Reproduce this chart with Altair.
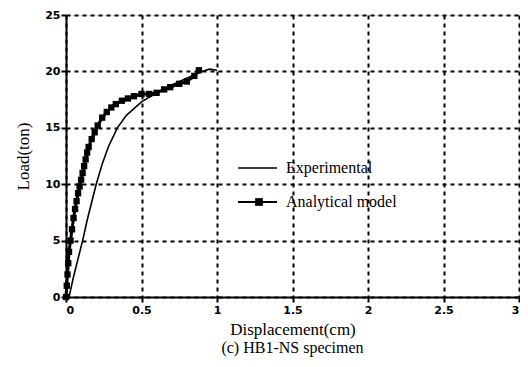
import altair as alt
import pandas as pd

exp_x = [0.02, 0.05, 0.08, 0.11, 0.14, 0.17, 0.20, 0.24, 0.28, 0.34, 0.40, 0.50, 0.60, 0.70, 0.80, 0.90, 0.95, 1.00]
exp_y = [0.0, 1.8, 3.4, 5.0, 6.8, 8.4, 10.0, 11.8, 13.3, 15.0, 16.1, 17.3, 18.1, 18.8, 19.4, 20.0, 20.2, 20.1]

ana_x = [0.0, 0.005, 0.01, 0.015, 0.02, 0.03, 0.04, 0.05, 0.06, 0.07, 0.08, 0.09, 0.10, 0.11, 0.12,
         0.13, 0.14, 0.15, 0.17, 0.19, 0.21, 0.24, 0.27, 0.30, 0.33, 0.37, 0.41, 0.45, 0.50, 0.55,
         0.60, 0.65, 0.69, 0.75, 0.80, 0.85, 0.88]
ana_y = [0.0, 1.0, 2.0, 3.0, 4.0, 5.0, 6.0, 7.0, 7.8, 8.5, 9.2, 9.8, 10.4, 11.0, 11.6,
         12.2, 12.8, 13.3, 14.0, 14.6, 15.2, 15.9, 16.4, 16.8, 17.1, 17.4, 17.6, 17.8, 18.0, 18.0,
         18.1, 18.4, 18.6, 18.9, 19.1, 19.6, 20.1]

legend_labels = ["Experimental", "Analytical model"]

x_ticks = [0, 0.5, 1, 1.5, 2, 2.5, 3]
y_ticks = [0, 5, 10, 15, 20, 25]

exp_df = pd.DataFrame({"x": exp_x, "y": exp_y, "o": list(range(len(exp_x)))})
ana_df = pd.DataFrame({"x": ana_x, "y": ana_y, "o": list(range(len(ana_x)))})

W, H = 453, 282

xs = alt.Scale(domain=[0, 3], nice=False)
ys = alt.Scale(domain=[0, 25], nice=False)

SERIF = "Liberation Serif"

common = dict(grid=True, gridDash=[4, 4], gridWidth=2, gridColor="black", gridOpacity=1,
              domainColor="black", domainWidth=2, tickColor="black", tickSize=5, tickWidth=2,
              labelFont="DejaVu Sans", labelFontWeight="bold", labelFontSize=11, labelColor="black",
              titleFont=SERIF, titleFontSize=17, titleFontWeight="normal", titleColor="black")

xax = alt.Axis(values=x_ticks, title="Displacement(cm)", labelPadding=2, titlePadding=6,
               labelExpr="datum.value", **common)
yax = alt.Axis(values=y_ticks, title="Load(ton)", labelPadding=1, titlePadding=12, **common)

exp_line = alt.Chart(exp_df).mark_line(color="black", strokeWidth=1.6).encode(
    x=alt.X("x:Q", scale=xs, axis=xax),
    y=alt.Y("y:Q", scale=ys, axis=yax),
    order="o:Q",
)
ana_line = alt.Chart(ana_df).mark_line(color="black", strokeWidth=3).encode(
    x=alt.X("x:Q", scale=xs), y=alt.Y("y:Q", scale=ys), order="o:Q"
)
ana_pts = alt.Chart(ana_df).mark_square(color="black", size=40, opacity=1).encode(
    x=alt.X("x:Q", scale=xs), y=alt.Y("y:Q", scale=ys)
)

leg_df = pd.DataFrame({"label": legend_labels, "i": [0, 1]})
leg_rule1 = alt.Chart(leg_df).transform_filter("datum.i == 0").mark_rule(color="black", strokeWidth=1.6).encode(
    x=alt.value(172), x2=alt.value(211), y=alt.value(153)
)
leg_rule2 = alt.Chart(leg_df).transform_filter("datum.i == 1").mark_rule(color="black", strokeWidth=2).encode(
    x=alt.value(172), x2=alt.value(211), y=alt.value(187)
)
leg_sq = alt.Chart(leg_df).transform_filter("datum.i == 1").mark_square(color="black", size=60, opacity=1).encode(
    x=alt.value(193), y=alt.value(187)
)
leg_text1 = alt.Chart(leg_df).transform_filter("datum.i == 0").mark_text(
    align="left", baseline="middle", font=SERIF, fontSize=16, color="black"
).encode(x=alt.value(220), y=alt.value(153), text="label:N")
leg_text2 = alt.Chart(leg_df).transform_filter("datum.i == 1").mark_text(
    align="left", baseline="middle", font=SERIF, fontSize=16, color="black"
).encode(x=alt.value(220), y=alt.value(187), text="label:N")

chart = alt.layer(exp_line, ana_line, ana_pts, leg_rule1, leg_rule2, leg_sq, leg_text1, leg_text2).properties(
    width=W, height=H,
    autosize=alt.AutoSizeParams(type="none"),
    padding={"left": 58, "top": 7, "right": 1, "bottom": 62},
    title=alt.TitleParams("(c) HB1-NS specimen", orient="bottom", font=SERIF,
                          fontSize=16, fontWeight="normal", color="black", offset=3),
).configure_view(stroke="black", strokeWidth=2).configure(background="white")

chart.save("out.html", embed_options={"renderer": "svg", "actions": False})
